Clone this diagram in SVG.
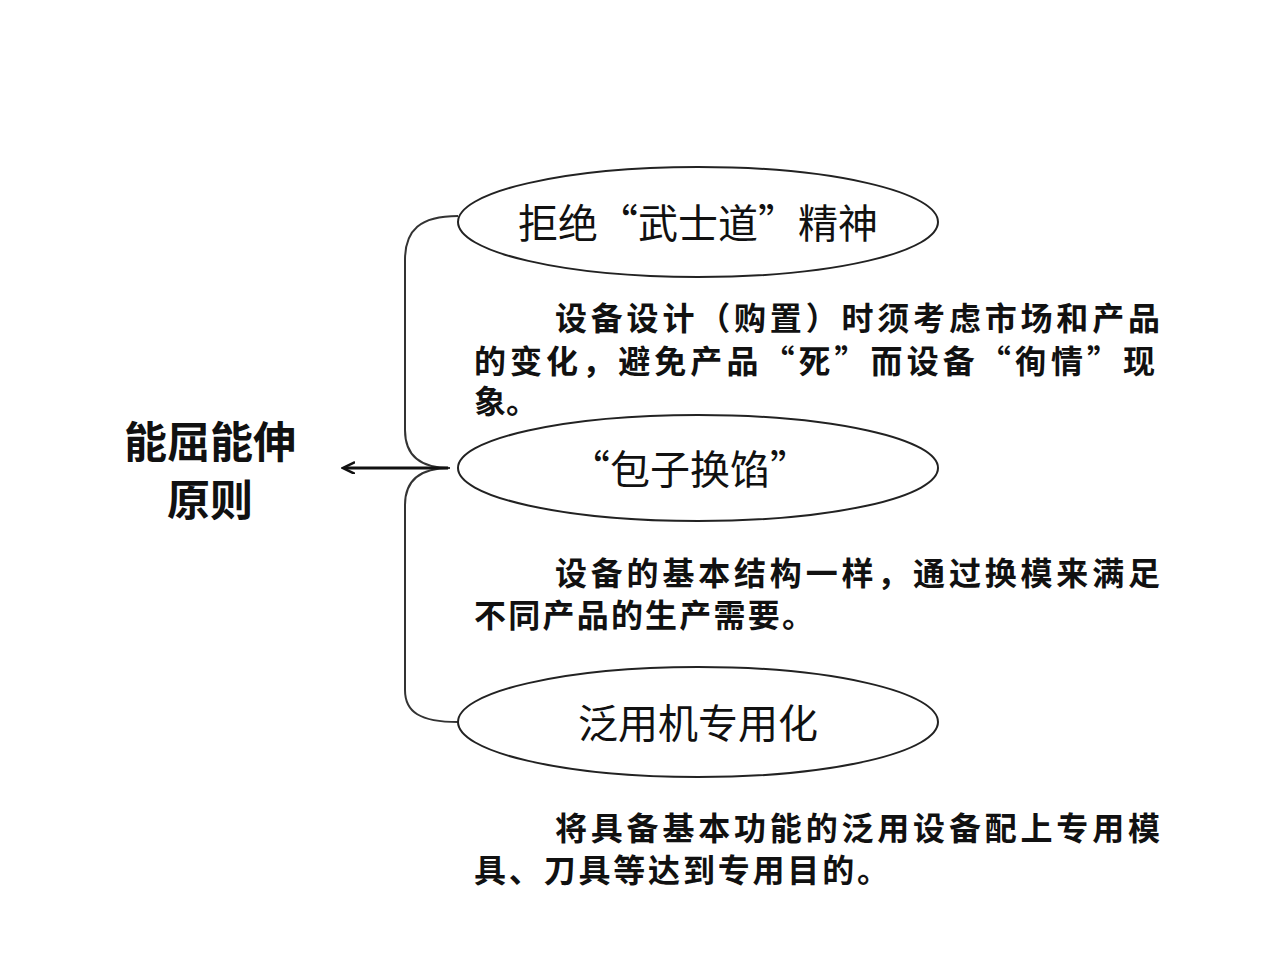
<svg xmlns="http://www.w3.org/2000/svg" width="1280" height="960" viewBox="0 0 1280 960">
<style>
text{font-family:"Noto Sans CJK SC","Liberation Sans",sans-serif;fill:#111}
.e{fill:none;stroke:#222;stroke-width:2}
.t{font-size:40px;text-anchor:middle}
.p{font-size:32px;font-weight:bold}
.c{fill:none;stroke:#333;stroke-width:2}
</style>
<defs><marker id="a" markerWidth="14" markerHeight="14" refX="11" refY="6" orient="auto" markerUnits="userSpaceOnUse"><path d="M0,0 L12,6 L0,12" fill="none" stroke="#111" stroke-width="2.5"/></marker></defs>
<rect width="1280" height="960" fill="#fff"/>
<g id="root"><text x="210" y="458" font-size="43" font-weight="bold" text-anchor="middle">能屈能伸</text><text x="210" y="516" font-size="43" font-weight="bold" text-anchor="middle">原则</text></g>
<g id="connectors">
<path class="c" d="M458,216 C420,216 405,230 405,260 L405,430 C405,455 420,468 450,468 M450,468 C420,468 405,480 405,505 L405,690 C405,712 420,722 458,722"/>
<line x1="448" y1="468" x2="344" y2="468" stroke="#111" stroke-width="3" marker-end="url(#a)"/>
</g>
<g id="n1"><ellipse class="e" cx="698" cy="222" rx="240" ry="55"/><text class="t" x="698" y="238">拒绝“武士道”精神</text>
<text class="p" x="555" y="330" textLength="605">设备设计（购置）时须考虑市场和产品</text>
<text class="p" x="474" y="373" textLength="681">的变化，避免产品“死”而设备“徇情”现</text>
<text class="p" x="474" y="413">象。</text></g>
<g id="n2"><ellipse class="e" cx="698" cy="468" rx="240" ry="53"/><text class="t" x="690" y="484">“包子换馅”</text>
<text class="p" x="555" y="585" textLength="605">设备的基本结构一样，通过换模来满足</text>
<text class="p" x="474" y="627" textLength="340">不同产品的生产需要。</text></g>
<g id="n3"><ellipse class="e" cx="698" cy="722" rx="240" ry="55"/><text class="t" x="698" y="738">泛用机专用化</text>
<text class="p" x="555" y="840" textLength="605">将具备基本功能的泛用设备配上专用模</text>
<text class="p" x="474" y="882" textLength="415">具、刀具等达到专用目的。</text></g>
</svg>
